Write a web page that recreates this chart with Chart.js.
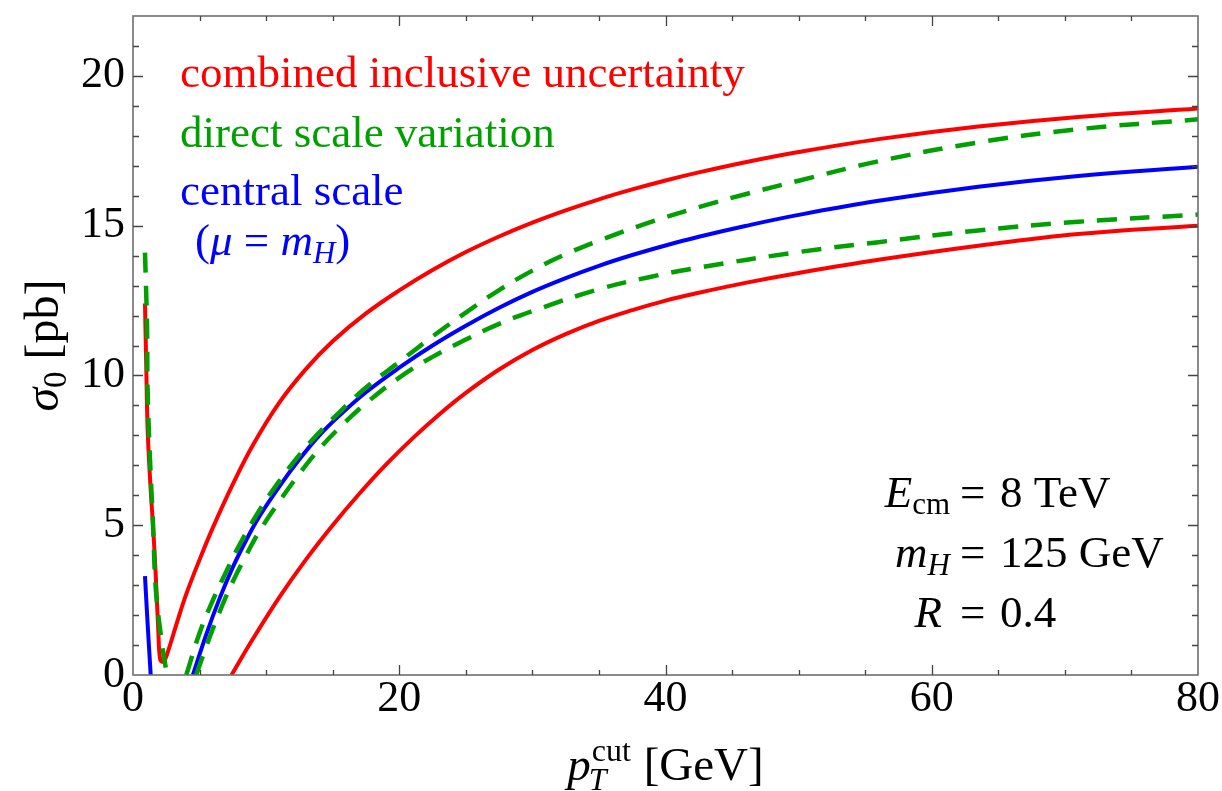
<!DOCTYPE html>
<html>
<head>
<meta charset="utf-8">
<script src="https://cdn.jsdelivr.net/npm/chart.js@4.4.0/dist/chart.umd.min.js"></script>
<style>
  html, body { margin: 0; padding: 0; background: #fff; }
</style>
</head>
<body>
<canvas id="myChart" width="1222" height="791"></canvas>
<script>
// tick labels
var xTicks = [0, 20, 40, 60, 80];
var yTicks = [0, 5, 10, 15, 20];

// combined inclusive uncertainty, upper edge
var combUpX = [0.9, 1.0, 1.1, 1.3, 1.5, 1.7, 1.9, 2.05, 2.3, 2.6, 3.3, 4, 5, 6, 7.5, 9, 11, 13, 15, 17.5, 20, 22.5, 25, 27.5, 30, 32.5, 35, 37.5, 40, 42.5, 46, 50, 56, 63.5, 71, 80];
var combUpY = [12.4, 10.2, 8.2, 6.4, 5.0, 3.4, 1.5, 0.5, 0.45, 0.75, 1.75, 2.7, 3.85, 4.92, 6.37, 7.67, 9.1, 10.22, 11.14, 12.07, 12.84, 13.52, 14.12, 14.64, 15.1, 15.51, 15.88, 16.21, 16.51, 16.78, 17.12, 17.46, 17.89, 18.31, 18.63, 18.91];

// combined inclusive uncertainty, lower edge
var combLoX = [7.4, 9, 11, 13, 15, 17, 19, 21, 23, 25, 27.5, 30, 32.5, 35, 37.5, 40, 42.5, 46, 50, 56, 63.5, 71, 80];
var combLoY = [0, 1.2, 2.6, 3.86, 5.0, 6.05, 7.02, 7.9, 8.7, 9.42, 10.2, 10.85, 11.38, 11.82, 12.18, 12.5, 12.76, 13.09, 13.42, 13.86, 14.33, 14.72, 15.0];

// central scale (mu = mH)
var centralX = [0.9, 1.1, 1.33, 3, 4.5, 5.5, 6.5, 7.5, 8.5, 9.5, 11, 12.5, 14, 15.5, 17.5, 20, 22.5, 25, 27.5, 30, 32.5, 35, 37.5, 40, 42.5, 46, 50, 56, 63.5, 71, 80];
var centralY = [3.3, 1.7, 0, null, 0, 1.35, 2.55, 3.6, 4.5, 5.3, 6.3, 7.2, 8.0, 8.66, 9.44, 10.26, 11.0, 11.66, 12.26, 12.79, 13.25, 13.66, 14.02, 14.34, 14.63, 14.99, 15.36, 15.83, 16.3, 16.66, 16.97];

// direct scale variation, first curve
var varAX = [0.9, 1.05, 1.1, 1.27, 1.5, 1.72, 2.17, 2.55, 3.2, 4, 5, 6, 7, 8, 9.5, 11, 12.5, 14, 15.5, 17.5, 20, 22.5, 25, 27.5, 30, 32.5, 35, 38.75, 42.5, 46, 50, 56, 63.5, 71, 80];
var varAY = [14.1, 11.7, 9.5, 7.27, 5.07, 2.83, 1.07, 0, null, 0, 1.4, 2.5, 3.45, 4.35, 5.5, 6.48, 7.35, 8.1, 8.77, 9.6, 10.45, 11.3, 12.1, 12.85, 13.5, 14.05, 14.5, 15.1, 15.62, 16.05, 16.5, 17.15, 17.78, 18.22, 18.55];

// direct scale variation, second curve
var varBX = [4.75, 5.5, 6.5, 7.5, 8.5, 9.5, 11, 12.5, 14, 15.5, 17.5, 20, 22.5, 25, 27.5, 30, 35, 38.75, 42.5, 50, 56, 63.5, 71, 80];
var varBY = [0, 0.95, 2.1, 3.12, 4.0, 4.8, 5.8, 6.72, 7.55, 8.25, 9.07, 9.93, 10.62, 11.2, 11.72, 12.15, 12.88, 13.28, 13.6, 14.12, 14.45, 14.84, 15.13, 15.37];

var RED = '#ff0000', GREEN = '#00a000', BLUE = '#0000ff';
var serif = '"Liberation Serif", "Times New Roman", serif';

function pts(xs, ys) {
    return xs.map(function (x, i) { return { x: x, y: ys[i] }; });
}

function fnt(size, italic) {
    return (italic ? 'italic ' : '') + size + 'px ' + serif;
}

// parts: [text, size, italic, dy]
function rich(ctx, parts, x, y, align) {
    var w = 0;
    parts.forEach(function (p) { ctx.font = fnt(p[1], p[2]); w += ctx.measureText(p[0]).width; });
    var cx = align === 'right' ? x - w : (align === 'center' ? x - w / 2 : x);
    parts.forEach(function (p) {
        ctx.font = fnt(p[1], p[2]);
        ctx.fillText(p[0], cx, y + (p[3] || 0));
        cx += ctx.measureText(p[0]).width;
    });
}

var frame = {
    id: 'frame',
    afterDraw: function (chart) {
        var ctx = chart.ctx, a = chart.chartArea;
        var xs = chart.scales.x, ys = chart.scales.y;
        ctx.save();
        ctx.strokeStyle = '#6e6e6e';
        ctx.lineWidth = 1.6;
        ctx.strokeRect(a.left, a.top, a.right - a.left, a.bottom - a.top);

        ctx.strokeStyle = '#444';
        ctx.lineWidth = 1.3;
        ctx.beginPath();
        for (var v = 5; v < 80; v += 5) {
            var px = Math.round(xs.getPixelForValue(v)) + 0.5;
            var L = v % 20 === 0 ? 10 : 5;
            ctx.moveTo(px, a.bottom); ctx.lineTo(px, a.bottom - L);
            ctx.moveTo(px, a.top); ctx.lineTo(px, a.top + L);
        }
        for (var w = 1; w <= 21; w += 1) {
            var py = Math.round(ys.getPixelForValue(w)) + 0.5;
            var M = w % 5 === 0 ? 10 : 6;
            ctx.moveTo(a.left, py); ctx.lineTo(a.left + M, py);
            ctx.moveTo(a.right, py); ctx.lineTo(a.right - M, py);
        }
        ctx.stroke();

        ctx.textBaseline = 'alphabetic';
        ctx.textAlign = 'left';

        // labels of the curves
        ctx.fillStyle = RED;
        rich(ctx, [['combined inclusive uncertainty', 45, false]], 180, 87);
        ctx.fillStyle = GREEN;
        rich(ctx, [['direct scale variation', 45, false]], 180, 147);
        ctx.fillStyle = BLUE;
        rich(ctx, [['central scale', 45, false]], 180, 205);
        rich(ctx, [['(', 45, false], ['\u03bc', 45, true], [' = ', 45, false], ['m', 45, true], ['H', 31, true, 8], [')', 45, false]], 195, 255);

        // parameters
        ctx.fillStyle = '#000';
        rich(ctx, [['E', 45, true], ['cm', 31, false, 7]], 950, 507, 'right');
        rich(ctx, [['m', 45, true], ['H', 31, true, 8]], 950, 567, 'right');
        rich(ctx, [['R', 45, true]], 942, 627, 'right');
        [507, 567, 627].forEach(function (b) { rich(ctx, [['=', 45, false]], 960, b); });
        rich(ctx, [['8 TeV', 45, false]], 1000, 507);
        rich(ctx, [['125 GeV', 45, false]], 1000, 567);
        rich(ctx, [['0.4', 45, false]], 1000, 627);

        // x axis title
        var cx = (a.left + a.right) / 2;
        ctx.font = fnt(47, true);
        var wp = ctx.measureText('p').width;
        ctx.font = fnt(32, false);
        var wc = ctx.measureText('cut').width;
        ctx.font = fnt(47, false);
        var wg = ctx.measureText(' [GeV]').width;
        var x0 = cx - (wp + wc + 2 + wg) / 2;
        ctx.font = fnt(47, true); ctx.fillText('p', x0, 780);
        ctx.font = fnt(32, true); ctx.fillText('T', x0 + wp - 2, 790);
        ctx.font = fnt(32, false); ctx.fillText('cut', x0 + wp + 1, 761);
        ctx.font = fnt(47, false); ctx.fillText(' [GeV]', x0 + wp + wc + 2, 780);

        // y axis title
        ctx.translate(58, (a.top + a.bottom) / 2);
        ctx.rotate(-Math.PI / 2);
        rich(ctx, [['\u03c3', 48, true], ['0', 33, false, 8], [' [pb]', 48, false]], 0, 0, 'center');
        ctx.restore();
    }
};

function line(data, color, width, dash, order) {
    return {
        data: data,
        showLine: true,
        borderColor: color,
        backgroundColor: color,
        borderWidth: width,
        borderDash: dash,
        pointRadius: 0,
        fill: false,
        tension: 0.4,
        spanGaps: false,
        order: order
    };
}

var cvas = document.getElementById('myChart').getContext('2d');
var myChart = new Chart(cvas, {
    type: 'scatter',
    data: {
        datasets: [
            line(pts(combUpX, combUpY), RED, 4, [], 3),
            line(pts(combLoX, combLoY), RED, 4, [], 3),
            line(pts(centralX, centralY), BLUE, 4, [], 2),
            line(pts(varAX, varAY), GREEN, 4.5, [20, 13], 1),
            line(pts(varBX, varBY), GREEN, 4.5, [20, 13], 1)
        ]
    },
    options: {
        responsive: false,
        animation: false,
        layout: { padding: { left: 0, right: 24, top: 16, bottom: 0 } },
        plugins: { legend: { display: false }, tooltip: { enabled: false } },
        scales: {
            x: {
                type: 'linear', min: 0, max: 80,
                afterBuildTicks: function (s) { s.ticks = xTicks.map(function (v) { return { value: v }; }); },
                afterFit: function (s) { s.height = 116; },
                grid: { display: false, drawTicks: false },
                border: { display: false },
                ticks: { color: '#000', padding: 2, maxRotation: 0, font: { family: serif, size: 44, lineHeight: 1 } }
            },
            y: {
                type: 'linear', min: 0, max: 22,
                afterBuildTicks: function (s) { s.ticks = yTicks.map(function (v) { return { value: v }; }); },
                afterFit: function (s) { s.width = 133; s.paddingTop = 0; s.paddingBottom = 0; },
                grid: { display: false, drawTicks: false },
                border: { display: false },
                ticks: { color: '#000', padding: 8, font: { family: serif, size: 44, lineHeight: 0.5 } }
            }
        }
    },
    plugins: [frame]
});
</script>
</body>
</html>
